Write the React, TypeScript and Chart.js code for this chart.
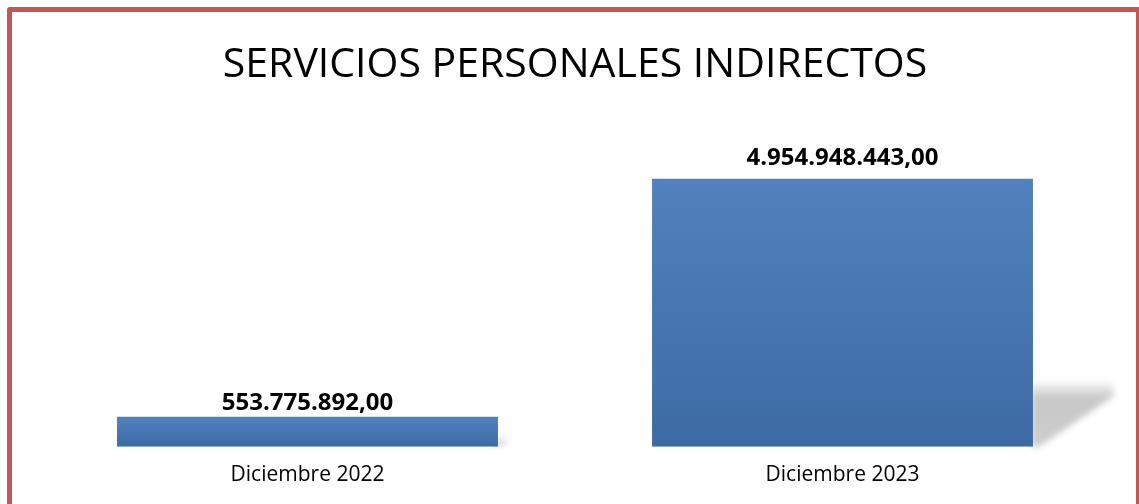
import React, { useEffect, useRef } from "react";
import { Chart, registerables } from "chart.js";

Chart.register(...registerables);

const TITLE = "SERVICIOS PERSONALES INDIRECTOS";
const CATEGORIES = ["Diciembre 2022", "Diciembre 2023"];
const VALUES = [553775892.0, 4954948443.0];
const VALUE_LABELS = ["553.775.892,00", "4.954.948.443,00"];
const Y_MAX = 6000000000;

const FONT = "'Open Sans', 'DejaVu Sans', sans-serif";

const barStylePlugin = {
  id: "barStyle",
  beforeDatasetsDraw(chart: any) {
    const ctx = chart.ctx;
    const meta = chart.getDatasetMeta(0);
    meta.data.forEach((el: any) => {
      const top = el.y;
      const base = el.base;
      const h = base - top;
      const right = el.x + el.width / 2;
      // perspective shadow
      const sw = h * 0.3;
      const sh = h * 0.235;
      ctx.save();
      ctx.filter = "blur(3px)";
      const g = ctx.createLinearGradient(0, base - sh - 6, 0, base);
      g.addColorStop(0, "rgba(200,200,200,0)");
      g.addColorStop(0.3, "rgba(200,200,200,1)");
      g.addColorStop(1, "rgba(205,205,205,1)");
      ctx.fillStyle = g;
      ctx.beginPath();
      ctx.moveTo(right - 2, base - sh);
      ctx.lineTo(right + sw, base - sh);
      ctx.lineTo(right + sw, base - sh * 0.8);
      ctx.lineTo(right + sw * 0.08, base);
      ctx.lineTo(right - 2, base);
      ctx.closePath();
      ctx.fill();
      ctx.restore();
      // gradient fill of the bar
      const grad = ctx.createLinearGradient(0, top, 0, base);
      grad.addColorStop(0, "#5082bf");
      grad.addColorStop(1, "#3d6aa3");
      el.options = { ...el.options, backgroundColor: grad };
    });
  },
  afterDatasetsDraw(chart: any) {
    const ctx = chart.ctx;
    const meta = chart.getDatasetMeta(0);
    const gaps = [7, 14];
    meta.data.forEach((el: any, i: number) => {
      ctx.save();
      ctx.font = `bold 24px ${FONT}`;
      ctx.fillStyle = "#000000";
      ctx.textAlign = "center";
      ctx.textBaseline = "alphabetic";
      ctx.fillText(VALUE_LABELS[i], el.x, el.y - gaps[i]);
      ctx.restore();
    });
  },
};

export default function App() {
  const canvasRef = useRef<HTMLCanvasElement | null>(null);

  useEffect(() => {
    if (!canvasRef.current) return;
    const chart = new Chart(canvasRef.current, {
      type: "bar",
      data: {
        labels: CATEGORIES,
        datasets: [
          {
            data: VALUES,
            backgroundColor: "#4a7ab5",
            borderWidth: 0,
            barPercentage: 0.712,
            categoryPercentage: 1,
          },
        ],
      },
      options: {
        responsive: false,
        animation: false,
        layout: { padding: { left: 40, right: 29, top: 0, bottom: 0 } },
        plugins: {
          legend: { display: false },
          tooltip: { enabled: false },
          title: {
            display: true,
            text: TITLE,
            color: "#000000",
            font: { family: FONT, size: 41, weight: "normal", lineHeight: 1.2 },
            padding: { top: 41, bottom: 32 },
          },
        },
        scales: {
          x: {
            grid: { display: false, drawTicks: false },
            border: { display: false },
            ticks: {
              color: "#000000",
              padding: 16,
              font: { family: FONT, size: 21, lineHeight: 1.2 },
            },
          },
          y: {
            display: false,
            min: 0,
            max: Y_MAX,
          },
        },
      },
      plugins: [barStylePlugin],
    });
    return () => chart.destroy();
  }, []);

  return (
    <div
      style={{
        position: "fixed",
        left: 0,
        top: 0,
        width: 1139,
        height: 504,
        background: "#ffffff",
        overflow: "hidden",
      }}
    >
      <canvas
        ref={canvasRef}
        width={1139}
        height={504}
        style={{ position: "absolute", left: 0, top: 0, width: 1139, height: 504 }}
      />
      <div
        style={{
          position: "absolute",
          left: 7,
          top: 7,
          width: 1134,
          height: 540,
          boxSizing: "border-box",
          border: "5px solid #c65656",
          borderRadius: 3,
          pointerEvents: "none",
        }}
      />
    </div>
  );
}
